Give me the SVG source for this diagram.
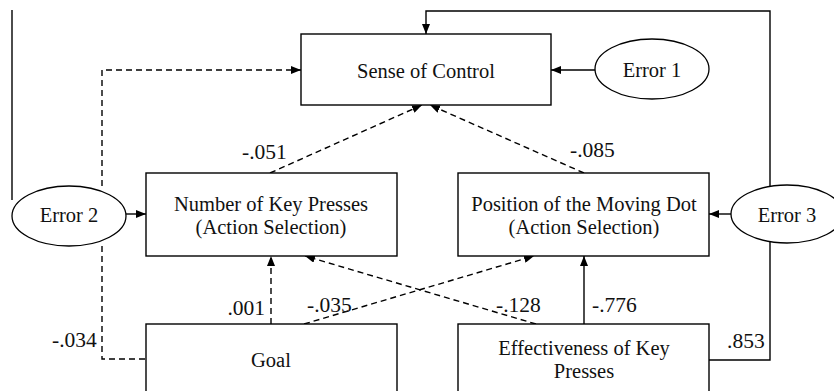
<svg xmlns="http://www.w3.org/2000/svg" width="834" height="391" viewBox="0 0 834 391">
<style>
.box{fill:#fff;stroke:#000;stroke-width:1.4}
.ell{fill:#fff;stroke:#000;stroke-width:1.3}
.t{font-family:"Liberation Serif","Times New Roman",serif;font-size:20.5px;fill:#111;text-anchor:middle}
.n{font-family:"Liberation Serif","Times New Roman",serif;font-size:21.5px;fill:#111}
.c{fill:none;stroke:#000;stroke-width:1.4}
.d{fill:none;stroke:#000;stroke-width:1.4;stroke-dasharray:6 4}
</style>
<defs>
<marker id="ah" markerUnits="userSpaceOnUse" markerWidth="10" markerHeight="8" viewBox="0 0 10 8" refX="10" refY="4" orient="auto">
<path d="M0,0 L10,4 L0,8 Z" fill="#000"/>
</marker>
</defs>
<rect width="834" height="391" fill="#fff"/>
<g id="connectors">
<line class="c" x1="12" y1="10" x2="12" y2="200"/>
<path class="c" d="M709,360 H770 V11 H426 V34" marker-end="url(#ah)"/>
<line class="c" x1="595" y1="70" x2="551" y2="70" marker-end="url(#ah)"/>
<path class="d" d="M102,186 V70 H301" marker-end="url(#ah)"/>
<line class="c" x1="126" y1="214" x2="146" y2="214" marker-end="url(#ah)"/>
<path class="d" d="M102,246 V359 H146"/>
<line class="c" x1="731" y1="214" x2="709" y2="214" marker-end="url(#ah)"/>
<line class="d" x1="270" y1="173" x2="422" y2="105" marker-end="url(#ah)"/>
<line class="d" x1="584" y1="173" x2="430" y2="105" marker-end="url(#ah)"/>
<line class="d" x1="271" y1="324" x2="271" y2="256" marker-end="url(#ah)"/>
<line class="d" x1="304" y1="324" x2="534" y2="256" marker-end="url(#ah)"/>
<line class="d" x1="536" y1="324" x2="305" y2="256" marker-end="url(#ah)"/>
<line class="c" x1="584" y1="324" x2="584" y2="256" marker-end="url(#ah)"/>
<text class="n" x="242" y="159">-.051</text>
<text class="n" x="570" y="157">-.085</text>
<text class="n" x="265" y="315" text-anchor="end">.001</text>
<text class="n" x="307" y="312">-.035</text>
<text class="n" x="496" y="312">-.128</text>
<text class="n" x="592" y="312">-.776</text>
<text class="n" x="52" y="347">-.034</text>
<text class="n" x="727" y="348">.853</text>
</g>
<g id="sense">
<rect class="box" x="301" y="34" width="250" height="71"/>
<text class="t" x="426" y="78">Sense of Control</text>
</g>
<g id="error1">
<ellipse class="ell" cx="652" cy="69" rx="57" ry="30"/>
<text class="t" x="652" y="77">Error 1</text>
</g>
<g id="error2">
<ellipse class="ell" cx="69" cy="216" rx="57" ry="30"/>
<text class="t" x="69" y="222">Error 2</text>
</g>
<g id="error3">
<ellipse class="ell" cx="787" cy="214" rx="56" ry="29"/>
<text class="t" x="787" y="222">Error 3</text>
</g>
<g id="keypresses">
<rect class="box" x="146" y="173" width="251" height="83"/>
<text class="t" x="271" y="211">Number of Key Presses</text>
<text class="t" x="271" y="234">(Action Selection)</text>
</g>
<g id="dot">
<rect class="box" x="458" y="173" width="251" height="83"/>
<text class="t" x="584" y="211">Position of the Moving Dot</text>
<text class="t" x="584" y="234">(Action Selection)</text>
</g>
<g id="goal">
<rect class="box" x="146" y="324" width="251" height="80"/>
<text class="t" x="271" y="367">Goal</text>
</g>
<g id="effectiveness">
<rect class="box" x="458" y="324" width="251" height="80"/>
<text class="t" x="584" y="355">Effectiveness of Key</text>
<text class="t" x="584" y="378">Presses</text>
</g>
</svg>
